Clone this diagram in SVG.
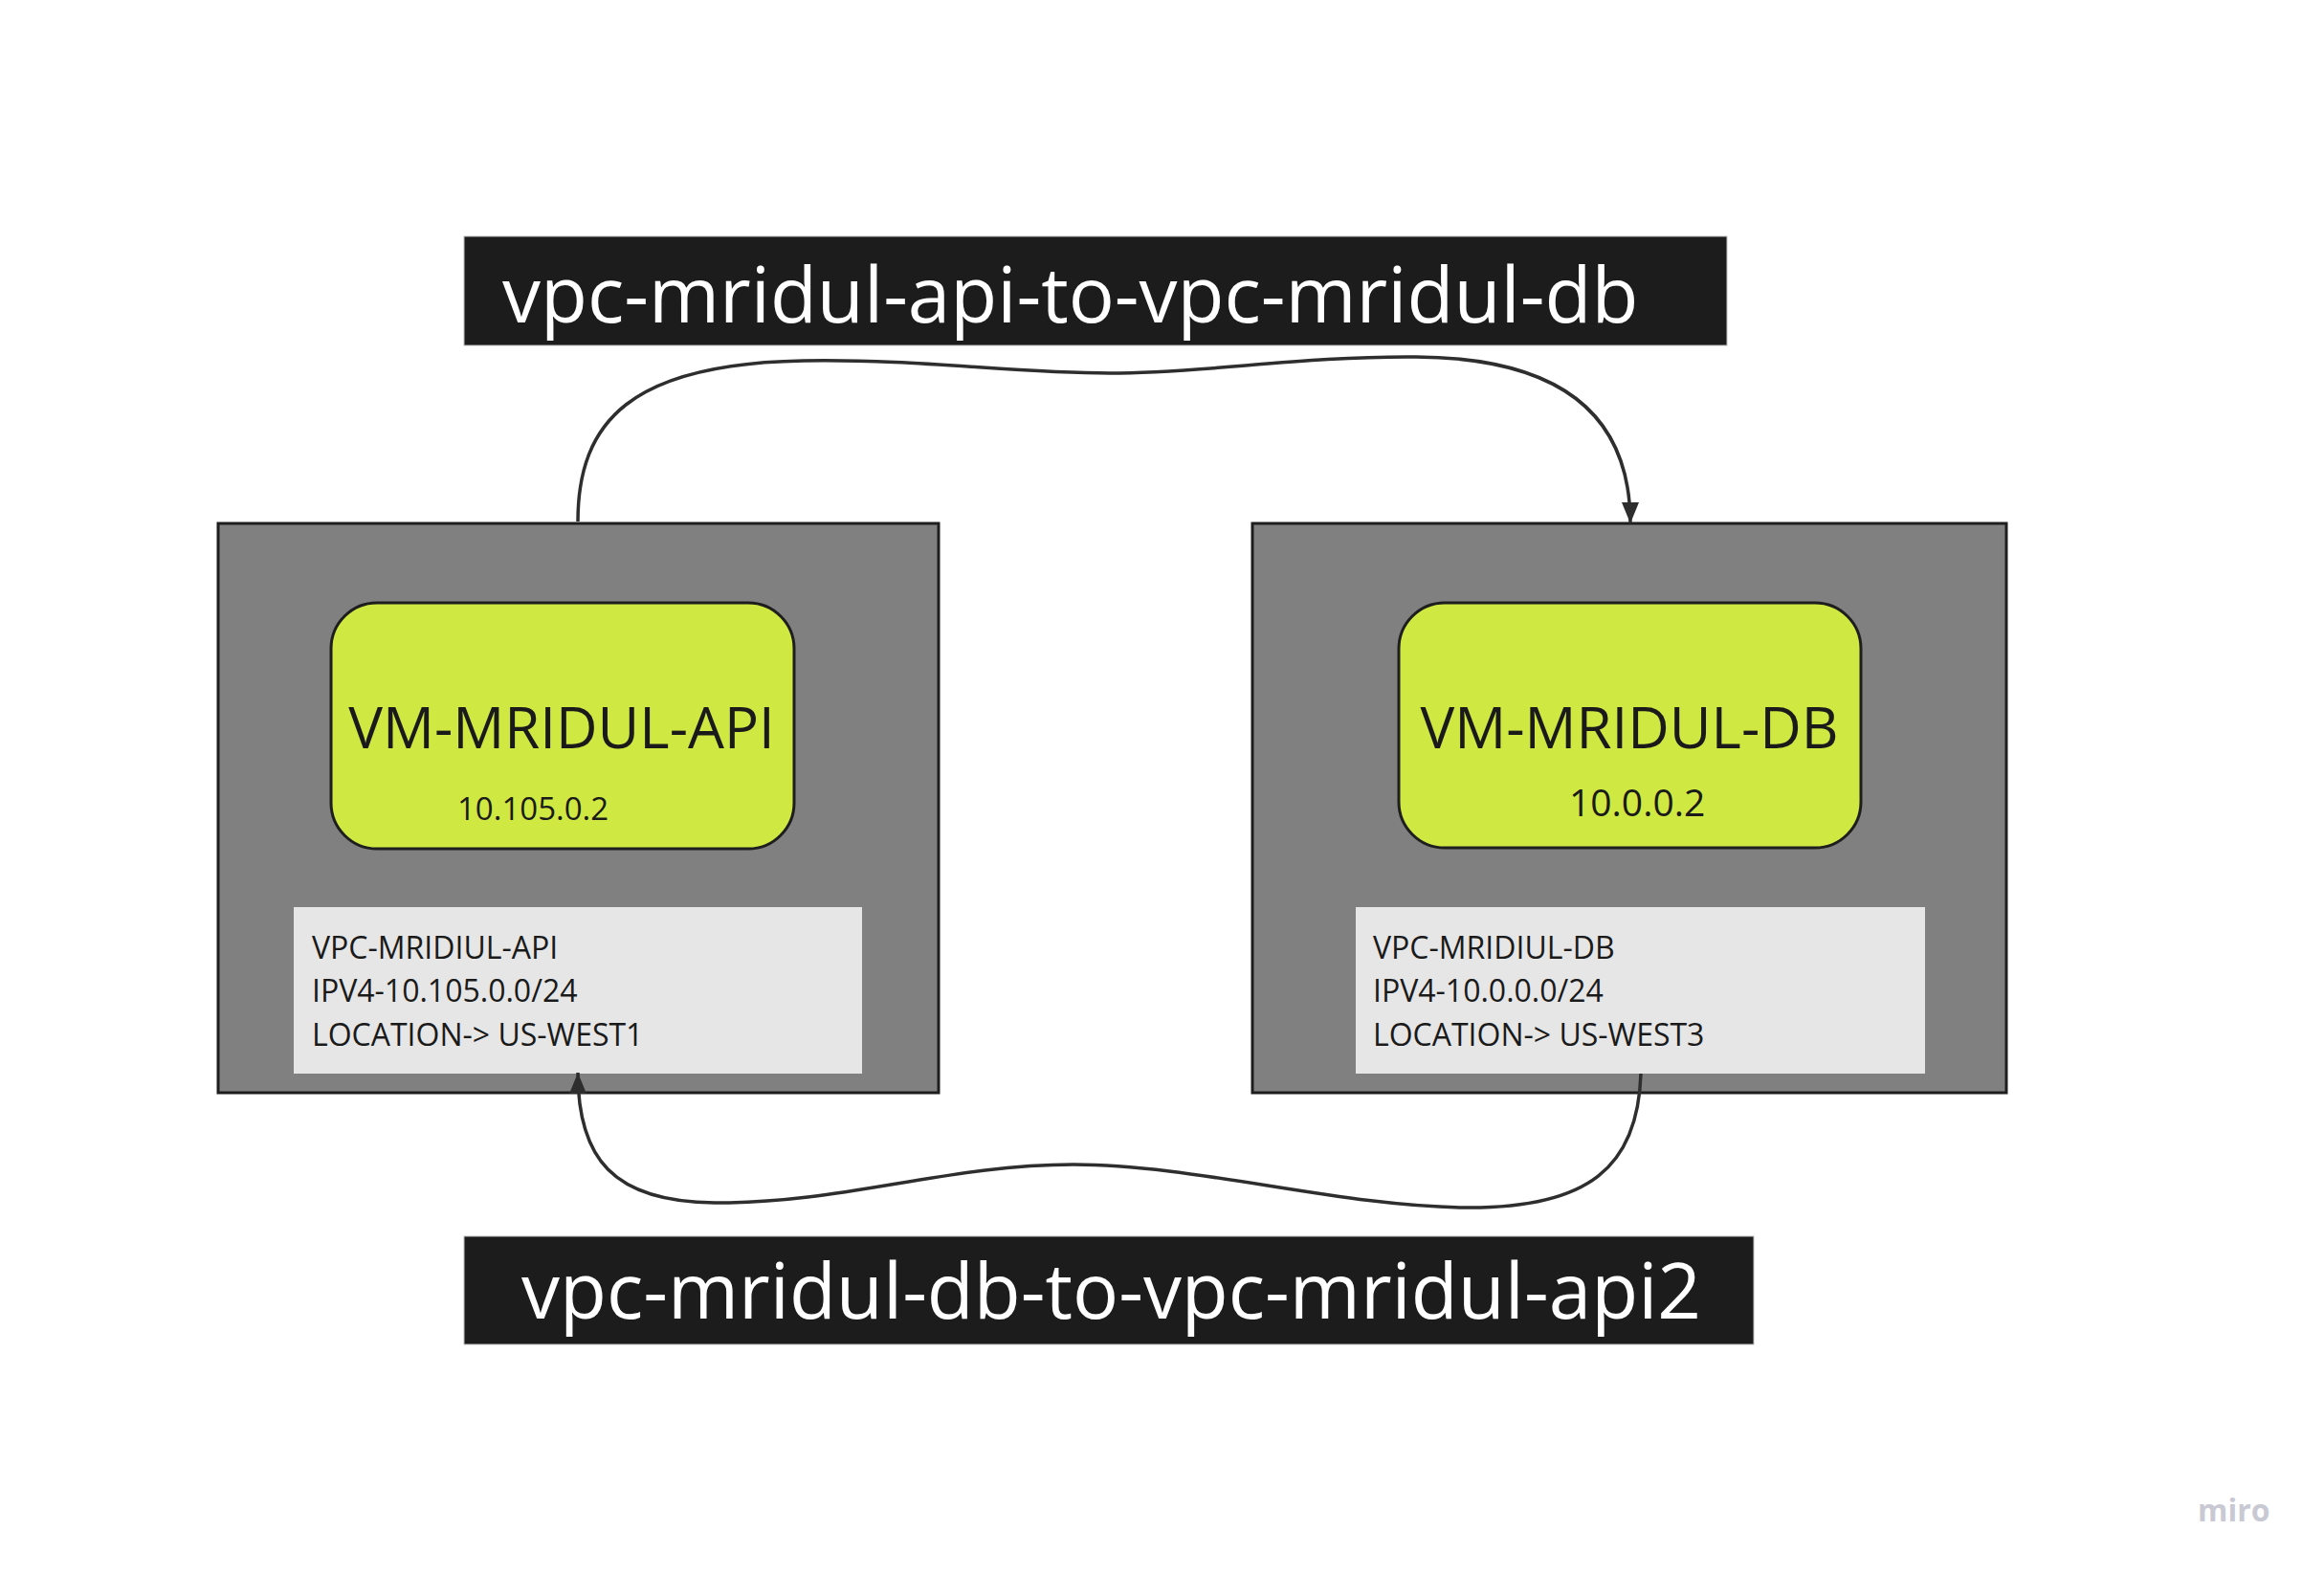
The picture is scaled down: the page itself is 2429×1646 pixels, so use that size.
<svg xmlns="http://www.w3.org/2000/svg" width="2429" height="1646" viewBox="0 0 2429 1646">
<defs>
<style>
.vpc{fill:#808080;stroke:#1e1e1e;stroke-width:3}
.vm{fill:#cfe842;stroke:#1e1e1e;stroke-width:3}
.info{fill:#e6e6e6}
.lbl{fill:#1c1c1c;stroke:#bdbdbd;stroke-width:1}
.t{font-family:"Open Sans","Noto Sans","Liberation Sans",sans-serif;fill:#1a1a1a}
.big{font-size:60px}
.small{font-size:32px}
.lt{font-family:"Open Sans","Noto Sans","Liberation Sans",sans-serif;fill:#ffffff;font-size:80px}
.conn{fill:none;stroke:#2e2e2e;stroke-width:3.5}
</style>
<marker id="arr" viewBox="0 0 10 10" refX="10" refY="5" markerWidth="22" markerHeight="18" markerUnits="userSpaceOnUse" orient="auto" preserveAspectRatio="none">
<path d="M0,0 L10,5 L0,10 z" fill="#2e2e2e"/>
</marker>
</defs>
<rect width="2429" height="1646" fill="#ffffff"/>

<g id="vpc-api">
<rect class="vpc" x="228" y="547" width="753" height="595"/>
</g>
<g id="vpc-db">
<rect class="vpc" x="1309" y="547" width="788" height="595"/>
</g>

<g id="vm-api">
<rect class="vm" x="346" y="630" width="484" height="257" rx="48" ry="48"/>
<text class="t big" x="587" y="782" text-anchor="middle">VM-MRIDUL-API</text>
<text class="t" x="478" y="857" font-size="33">10.105.0.2</text>
</g>
<g id="vm-db">
<rect class="vm" x="1462" y="630" width="483" height="256" rx="48" ry="48"/>
<text class="t big" x="1703" y="782" text-anchor="middle">VM-MRIDUL-DB</text>
<text class="t" x="1640" y="853" font-size="39">10.0.0.2</text>
</g>

<g id="info-api">
<rect class="info" x="307" y="948" width="594" height="174"/>
<text class="t small" x="326" y="1002">VPC-MRIDIUL-API</text>
<text class="t small" x="326" y="1047">IPV4-10.105.0.0/24</text>
<text class="t small" x="326" y="1093">LOCATION-&gt; US-WEST1</text>
</g>
<g id="info-db">
<rect class="info" x="1417" y="948" width="595" height="174"/>
<text class="t small" x="1435" y="1002">VPC-MRIDIUL-DB</text>
<text class="t small" x="1435" y="1047">IPV4-10.0.0.0/24</text>
<text class="t small" x="1435" y="1093">LOCATION-&gt; US-WEST3</text>
</g>

<g id="label-top">
<rect class="lbl" x="485" y="247" width="1320" height="114"/>
<text class="lt" x="525" y="337">vpc-mridul-api-to-vpc-mridul-db</text>
</g>
<g id="label-bottom">
<rect class="lbl" x="485" y="1292" width="1348" height="113"/>
<text class="lt" x="545" y="1378">vpc-mridul-db-to-vpc-mridul-api2</text>
</g>

<g id="connectors">
<path class="conn" marker-end="url(#arr)" d="M604,545 C604,440 660,380 840,377 C960,375 1060,390 1160,390 C1260,390 1360,372 1480,373 C1640,374 1704,440 1704,547"/>
<path class="conn" marker-end="url(#arr)" d="M1715,1122 C1712,1220 1660,1263 1532,1262 C1400,1261 1250,1217 1122,1217 C990,1217 880,1258 747,1257 C640,1256 604,1210 604,1121"/>
</g>

<text x="2297" y="1590" font-family="'Open Sans','Noto Sans',sans-serif" font-weight="bold" font-size="32" fill="#c9c9d3">miro</text>
</svg>
